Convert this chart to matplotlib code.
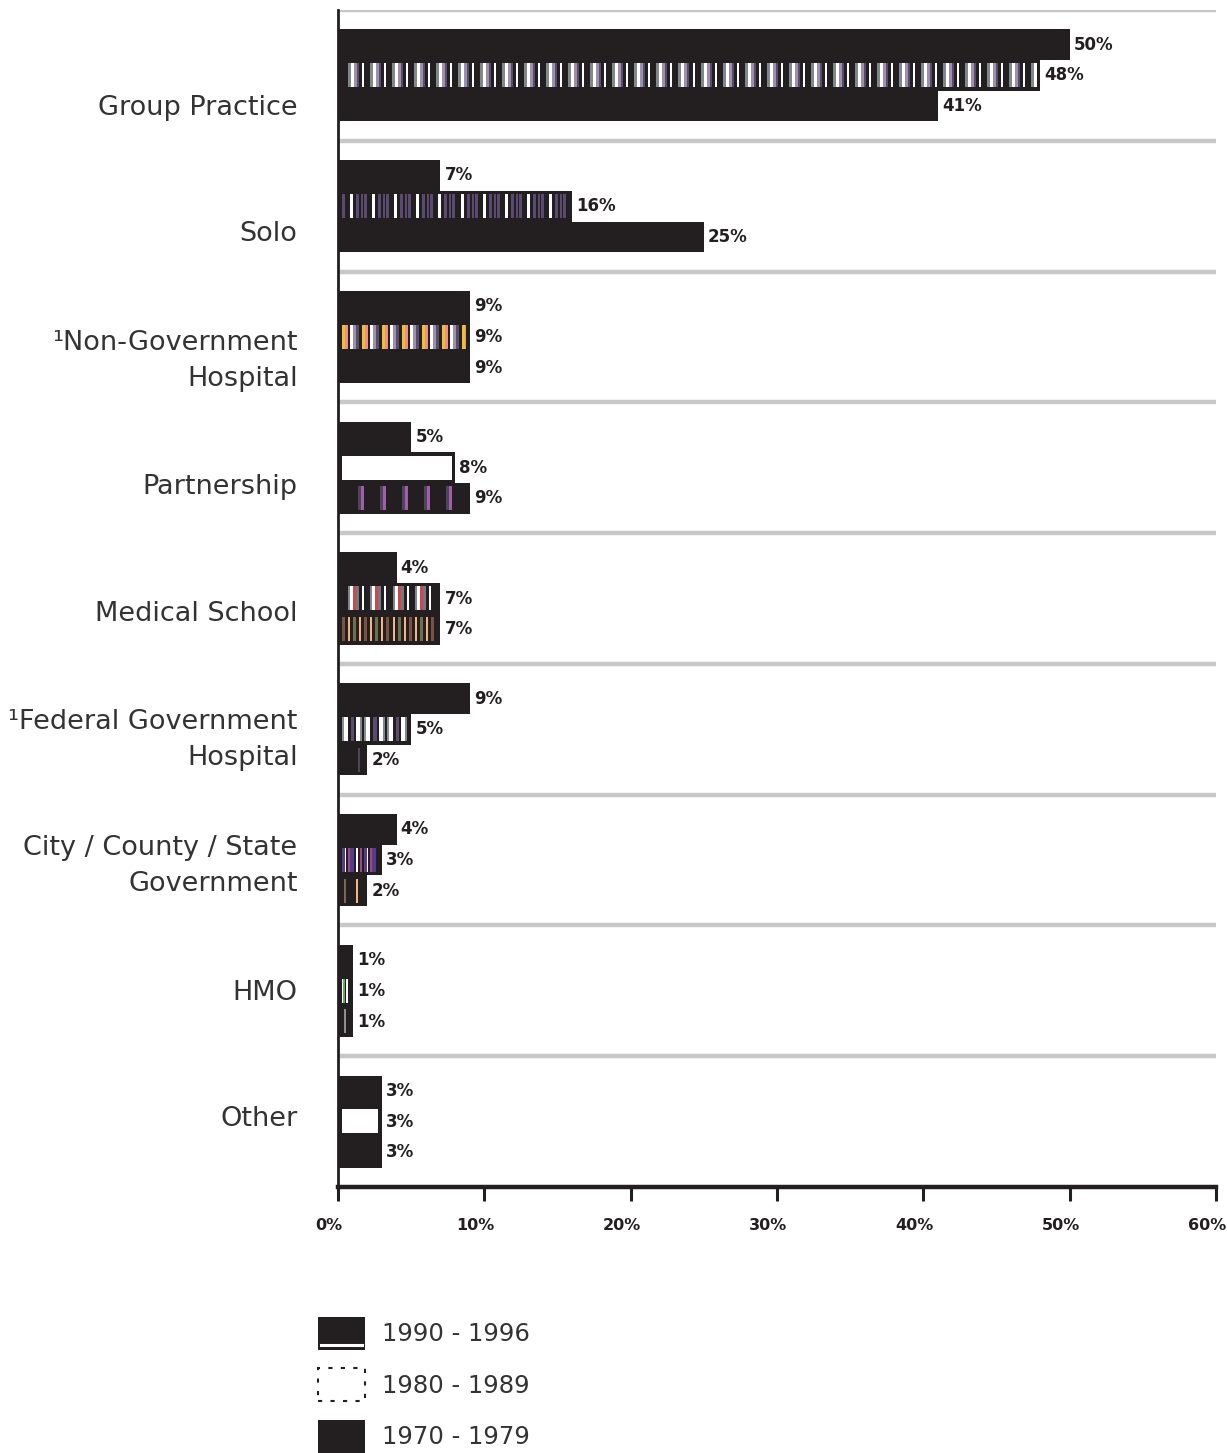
import numpy as np
import matplotlib
matplotlib.use("Agg")
import matplotlib.pyplot as plt
from matplotlib.colors import to_rgb
from matplotlib.patches import Rectangle
from matplotlib.lines import Line2D
from matplotlib.legend_handler import HandlerBase
from matplotlib.transforms import ScaledTranslation

# ---- data -------------------------------------------------------------
categories = [
    "Group Practice",
    "Solo",
    "¹Non-Government\nHospital",
    "Partnership",
    "Medical School",
    "¹Federal Government\nHospital",
    "City / County / State\nGovernment",
    "HMO",
    "Other",
]
period_labels = ["1990 - 1996", "1980 - 1989", "1970 - 1979"]
pct_1990 = [50, 7, 9, 5, 4, 9, 4, 1, 3]
pct_1980 = [48, 16, 9, 8, 7, 5, 3, 1, 3]
pct_1970 = [41, 25, 9, 9, 7, 2, 2, 1, 3]
x_ticks = [0, 10, 20, 30, 40, 50, 60]

# ---- styles -----------------------------------------------------------
DARK = "#231f20"
W = "#ffffff"
GRY = "#7f898b"
LAV = "#9d91aa"
PUR = "#5b4a70"
VIO = "#a35cab"
DPU = "#4f4559"
YEL = "#e9c32c"
PNK = "#f28c8c"
RED = "#c84b4b"
GPU = "#7b7485"
BRN = "#7a5244"
PCH = "#f6b482"
OLV = "#6f7050"
IND = "#553a8e"
MAG = "#9c4a82"
GRN = "#5fae5c"
GR2 = "#8a8d92"
BR2 = "#80684f"

# stripe fills inside bars: (colour, pixel width) repeated along the bar
fills_1980 = [
    [(DARK, 6), (GRY, 3), (W, 3), (LAV, 3), (PUR, 2), (DARK, 3), (W, 2)],
    [(PUR, 3), (DARK, 5), (W, 3), (DARK, 3), (PUR, 3), (DARK, 2), (PUR, 2), (DARK, 1)],
    [(YEL, 3), (PNK, 3), (DARK, 2), (W, 3), (LAV, 3), (PUR, 3), (DARK, 3)],
    [(W, 1)],
    [(DARK, 6), (GRY, 2), (W, 3), (RED, 3), (GPU, 3), (DARK, 3), (W, 2)],
    [(GR2, 2), (W, 4), (DARK, 3), (PUR, 3), (DARK, 2), (W, 4), (GRY, 2), (DARK, 2)],
    [(IND, 3), (W, 1), (DARK, 2), (MAG, 2), (IND, 4), (DARK, 2), (W, 2), (DARK, 2), (MAG, 2), (DARK, 2)],
    [(W, 1), (GRN, 2), (DARK, 1), (W, 2), (DARK, 20)],
    [(W, 1)],
]
fills_1970 = [
    None,
    None,
    None,
    [(DARK, 16), (DPU, 3), (VIO, 3)],
    [(BRN, 3), (DARK, 3), (PCH, 2), (DARK, 3), (OLV, 3), (DARK, 3), (PCH, 2), (DARK, 3)],
    [(DARK, 15), (DPU, 2), (DARK, 5)],
    [(DARK, 2), (BR2, 2), (DARK, 9), (PCH, 2), (DARK, 9)],
    [(DARK, 2), (GR2, 2), (DARK, 20)],
    None,
]

FIG_W, FIG_H, DPI = 1227, 1453, 100
fig = plt.figure(figsize=(FIG_W / DPI, FIG_H / DPI), dpi=DPI)
ax = fig.add_axes([338 / FIG_W, 1 - 1187 / FIG_H, 878 / FIG_W, 1177 / FIG_H])

n = len(categories)
ypos = np.arange(n)
bar_h = 0.235
offsets = [-bar_h, 0.0, bar_h]
series = [pct_1990, pct_1980, pct_1970]

XMAX = x_ticks[-1]
ax.set_xlim(0, XMAX)
ax.set_ylim(n - 0.5, -0.5)

# group separators
for yy in np.arange(-0.5, n - 1, 1.0):
    ax.axhline(yy, color="#c8c8c8", lw=3.2, zorder=1)

for vals, off in zip(series, offsets):
    ax.barh(ypos + off, vals, height=bar_h, color=DARK, linewidth=0, zorder=2)


def stripe_fill(y, value, pattern):
    """Paint a repeating vertical-stripe pattern inside a bar."""
    x0p = ax.transData.transform((0, y))[0] + 4
    x1p = ax.transData.transform((value, y))[0] - 4
    npx = max(int(round(x1p - x0p)), 1)
    cols = []
    for c, w in pattern:
        cols += [to_rgb(c)] * w
    arr = np.array([cols[k % len(cols)] for k in range(npx)])[None, :, :]
    inv = ax.transData.inverted()
    xa = inv.transform((x0p, 0))[0]
    xb = inv.transform((x1p, 0))[0]
    vin = 3.5 / 130.8
    ax.imshow(arr, extent=(xa, xb, y + bar_h / 2 - vin, y - bar_h / 2 + vin),
              aspect="auto", interpolation="nearest", zorder=3)


for i in range(n):
    if fills_1980[i] is not None:
        stripe_fill(ypos[i] + offsets[1], pct_1980[i], fills_1980[i])
    if fills_1970[i] is not None:
        stripe_fill(ypos[i] + offsets[2], pct_1970[i], fills_1970[i])

ax.set_xlim(0, XMAX)
ax.set_ylim(n - 0.5, -0.5)
ax.set_aspect("auto")

# value labels
for vals, off in zip(series, offsets):
    for i, v in enumerate(vals):
        ax.annotate(f"{v}%", (v, ypos[i] + off), xytext=(3, 0), textcoords="offset points",
                    va="center", ha="left", fontsize=12, fontweight="bold", color=DARK,
                    zorder=4)

# category labels
label_y = ypos + np.linspace(0.25, -0.02, n)
for yy, lab in zip(label_y, categories):
    ax.text(-0.046, yy, lab, transform=ax.get_yaxis_transform(), ha="right", va="center",
            fontsize=19.5, color="#333333", linespacing=1.5)

ax.set_yticks([])
ax.set_xticks(x_ticks)
ax.set_xticklabels([f"{t}%" for t in x_ticks], fontsize=11.5, fontweight="bold", color=DARK)
ax.tick_params(axis="x", direction="out", length=10, width=2.2, color=DARK, pad=12)
shift = ScaledTranslation(-9 / DPI, 0, fig.dpi_scale_trans)
for lab in ax.get_xticklabels():
    lab.set_transform(lab.get_transform() + shift)
for s in ("top", "right"):
    ax.spines[s].set_visible(False)
ax.spines["left"].set_linewidth(2)
ax.spines["left"].set_color(DARK)
ax.spines["bottom"].set_linewidth(3.2)
ax.spines["bottom"].set_color(DARK)
ax.spines["left"].set_zorder(5)


# ---- legend -----------------------------------------------------------
class Handler1990(HandlerBase):
    def create_artists(self, legend, orig, xd, yd, width, height, fontsize, trans):
        r = Rectangle((-xd, -yd), width, height, facecolor=DARK, edgecolor="none", transform=trans)
        ln = Line2D([-xd + 0.06 * width, -xd + 0.94 * width], [-yd + 0.14 * height] * 2,
                    color="white", lw=2.2, transform=trans)
        return [r, ln]


class Handler1980(HandlerBase):
    def create_artists(self, legend, orig, xd, yd, width, height, fontsize, trans):
        r = Rectangle((-xd, -yd), width, height, facecolor="white", edgecolor=DARK,
                      linestyle=(0, (2, 4)), lw=1.5, transform=trans)
        return [r]


class Handler1970(HandlerBase):
    def create_artists(self, legend, orig, xd, yd, width, height, fontsize, trans):
        r = Rectangle((-xd, -yd), width, height, facecolor=DARK, edgecolor="none", transform=trans)
        return [r]


keys = [Rectangle((0, 0), 1, 1), Rectangle((0, 0), 1, 1), Rectangle((0, 0), 1, 1)]
leg = fig.legend(keys, period_labels,
                 handler_map={keys[0]: Handler1990(), keys[1]: Handler1980(), keys[2]: Handler1970()},
                 loc="upper left", bbox_to_anchor=(318 / FIG_W, 1 - 1317 / FIG_H),
                 frameon=False, fontsize=17.5, handlelength=1.93, handleheight=1.71,
                 labelspacing=0.76, handletextpad=0.7, borderpad=0, borderaxespad=0)
for t in leg.get_texts():
    t.set_color("#333333")

fig.savefig("out.png", dpi=DPI)
